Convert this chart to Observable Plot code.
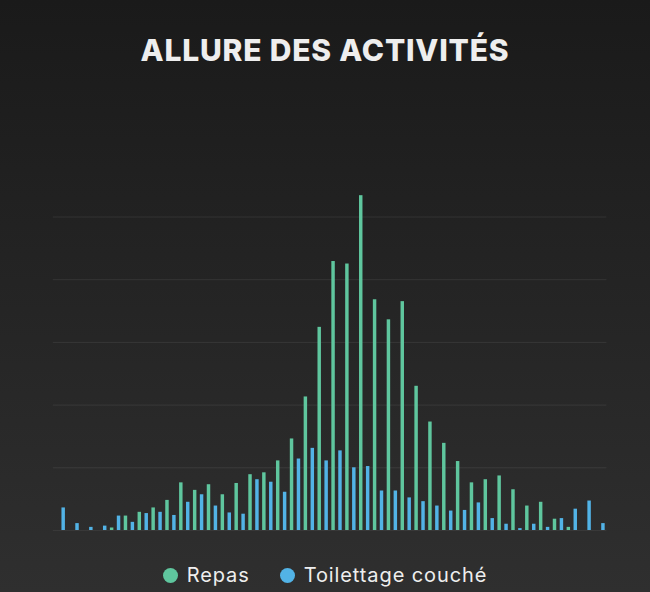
<!DOCTYPE html>
<html><head><meta charset="utf-8">
<script src="https://cdn.jsdelivr.net/npm/d3@7"></script>
<script src="https://cdn.jsdelivr.net/npm/@observablehq/plot@0.6"></script>
<style>
html,body{margin:0;padding:0}
body{width:650px;height:592px;overflow:hidden;background:linear-gradient(#1a1a1a,#2f2f2f);position:relative;font-family:Inter,"Open Sans",sans-serif;color:#eee}
#title{position:absolute;top:35px;left:0;width:650px;text-align:center;font-size:30px;line-height:30px;font-weight:800;color:#eeeeee;letter-spacing:0.8px}
#chart{position:absolute;left:0;top:150px}
#legend{position:absolute;top:565px;left:0;width:650px;display:flex;justify-content:center;font-size:20px;line-height:20px;color:#eeeeee;letter-spacing:0.9px}
.item{display:flex;align-items:center}
.item+.item{margin-left:30px}
.dot{width:15px;height:15px;border-radius:50%;margin-right:9px}
</style></head>
<body>
<div id="title">ALLURE DES ACTIVITÉS</div>
<div id="chart"></div>
<div id="legend"></div>
<script>
const categories = ["1","2","3","4","5","6","7","8","9","10","11","12","13","14","15","16","17","18","19","20","21","22","23","24","25","26","27","28","29","30","31","32","33","34","35","36","37","38","39","40"];
const series = ["Repas", "Toilettage couché"];
const colors = ["#5fc69e", "#52b3e6"];
const repas = [0,0,0,0,0.4,2.3,2.9,3.6,4.8,7.6,6.4,7.3,5.7,7.5,8.9,9.2,11.1,14.6,21.3,32.4,42.9,42.5,53.4,36.8,33.6,36.5,23.0,17.3,13.9,11.0,7.6,8.1,8.7,6.5,3.9,4.5,1.8,0.5,0,0];
const toilettage = [3.6,1.1,0.5,0.7,2.3,1.3,2.7,2.9,2.4,4.5,5.7,3.9,2.8,2.6,8.1,7.7,6.1,11.4,13.1,11.1,12.7,10.0,10.2,6.3,6.3,5.2,4.6,3.9,3.1,3.2,4.4,1.9,1.0,0.3,1.0,0.5,1.9,3.4,4.7,1.1];
const yTicks = [10,20,30,40,50];

const values = [repas, toilettage];
const table = [];
const keys = [];
categories.forEach((c, i) => {
  series.forEach((s, j) => {
    const key = c + "|" + s;
    keys.push(key);
    table.push({key, category: c, series: s, value: values[j][i]});
  });
});

const chart = Plot.plot({
  width: 650,
  height: 390,
  marginLeft: 52.8,
  marginRight: 43.6,
  marginTop: 3.8,
  marginBottom: 10,
  style: {background: "transparent"},
  x: {type: "band", domain: keys, paddingInner: 0.5, paddingOuter: 0.25, axis: null},
  y: {domain: [0, 60], axis: null},
  color: {domain: series, range: colors},
  marks: [
    Plot.ruleY(yTicks, {stroke: "#ffffff", strokeOpacity: 0.08}),
    Plot.ruleY([0], {stroke: "#ffffff", strokeOpacity: 0.06}),
    Plot.barY(table, {x: "key", y: "value", fill: "series"})
  ]
});
document.getElementById("chart").appendChild(chart);

const legend = document.getElementById("legend");
series.forEach((s, j) => {
  const item = document.createElement("div");
  item.className = "item";
  const dot = document.createElement("span");
  dot.className = "dot";
  dot.style.background = colors[j];
  const label = document.createElement("span");
  label.textContent = s;
  item.appendChild(dot);
  item.appendChild(label);
  legend.appendChild(item);
});
</script>
</body></html>
